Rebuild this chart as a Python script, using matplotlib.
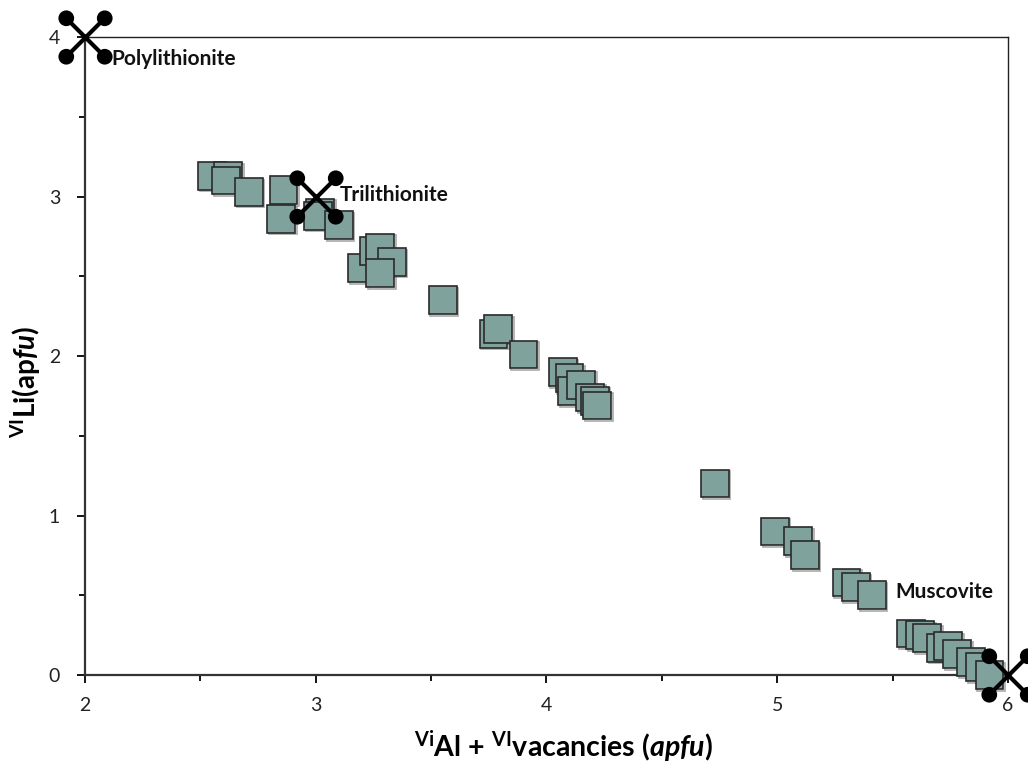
import numpy as np
import matplotlib
matplotlib.use('Agg')
import matplotlib.pyplot as plt
import matplotlib.patheffects as pe
from matplotlib.path import Path
from matplotlib.ticker import MultipleLocator

# measured mica compositions
al_vac = [2.55, 2.62, 2.61, 2.71, 2.86, 2.85, 3.02, 3.01, 3.10,
          3.20, 3.25, 3.28, 3.33, 3.28, 3.55, 3.77, 3.79, 3.90,
          4.07, 4.10, 4.11, 4.15, 4.19, 4.21, 4.22, 4.73,
          4.99, 5.09, 5.12, 5.30, 5.34, 5.41,
          5.58, 5.62, 5.65, 5.71, 5.74, 5.78, 5.84, 5.88, 5.92]
li = [3.13, 3.13, 3.10, 3.03, 3.04, 2.86, 2.90, 2.88, 2.82,
      2.55, 2.66, 2.68, 2.59, 2.52, 2.35, 2.14, 2.17, 2.01,
      1.90, 1.86, 1.78, 1.82, 1.74, 1.72, 1.69, 1.20,
      0.90, 0.84, 0.75, 0.58, 0.55, 0.50,
      0.26, 0.25, 0.23, 0.17, 0.18, 0.13, 0.08, 0.05, 0.00]

# end-members
end_names = ['Polylithionite', 'Trilithionite', 'Muscovite']
end_x = [2, 3, 6]
end_y = [4, 3, 0]
label_x = [2.113, 3.105, 5.51]
label_y = [3.86, 3.01, 0.52]

plt.rcParams['font.family'] = ['Lato', 'DejaVu Sans']
plt.rcParams['mathtext.fontset'] = 'custom'
plt.rcParams['mathtext.rm'] = 'Lato:bold'
plt.rcParams['mathtext.it'] = 'Lato:bold:italic'

# X marker with round ends
r = 0.3
parts = [Path([(-1, -1), (1, 1)], [Path.MOVETO, Path.LINETO]),
         Path([(-1, 1), (1, -1)], [Path.MOVETO, Path.LINETO])]
for cx, cy in [(-1, -1), (1, 1), (-1, 1), (1, -1)]:
    parts.append(Path.circle((cx, cy), r))
xmark = Path.make_compound_path(*parts)

fig = plt.figure(figsize=(10.28, 7.68), dpi=100)
ax = fig.add_axes([0.0827, 0.1211, 0.8978, 0.8307])

ax.plot(al_vac, li, linestyle='none', marker='s', markersize=20,
        markerfacecolor='#80a29d', markeredgecolor='#2a2a2a',
        markeredgewidth=1.2, clip_on=False, zorder=3,
        path_effects=[pe.SimpleLineShadow(offset=(1.2, -1.2), shadow_color='#555555', alpha=0.5),
                      pe.Normal()])

ax.plot(end_x, end_y, linestyle='none', marker=xmark, markersize=36,
        markerfacecolor='black', markeredgecolor='black',
        markeredgewidth=3.0, clip_on=False, zorder=4)

for name, tx, ty in zip(end_names, label_x, label_y):
    ax.text(tx, ty, name, fontsize=15, fontweight='bold', va='center',
            ha='left', color='#111111', zorder=5)

ax.set_xlim(2, 6)
ax.set_ylim(0, 4)
ax.xaxis.set_major_locator(MultipleLocator(1))
ax.xaxis.set_minor_locator(MultipleLocator(0.5))
ax.yaxis.set_major_locator(MultipleLocator(1))
ax.yaxis.set_minor_locator(MultipleLocator(0.5))
ax.tick_params(which='major', direction='out', length=6, width=1.3,
               labelsize=14, labelcolor='#222222')
ax.tick_params(which='minor', direction='out', length=4, width=1.3)
ax.tick_params(axis='x', which='major', pad=10)
ax.tick_params(axis='y', which='major', pad=12)

for side in ['left', 'bottom']:
    ax.spines[side].set_linewidth(1.6)
    ax.spines[side].set_color('#333333')
for side in ['top', 'right']:
    ax.spines[side].set_linewidth(1.0)
    ax.spines[side].set_color('#222222')

ax.set_xlabel(r'$^{\rm Vi}$Al + $^{\rm VI}$vacancies ($apfu$)',
              fontsize=20.5, fontweight='bold')
ax.set_ylabel(r'$^{\rm VI}$Li(ap$fu$)', fontsize=20, fontweight='bold')
ax.xaxis.set_label_coords(0.518, -0.084)
ax.yaxis.set_label_coords(-0.046, 0.46)

fig.savefig('out.png', dpi=100)
